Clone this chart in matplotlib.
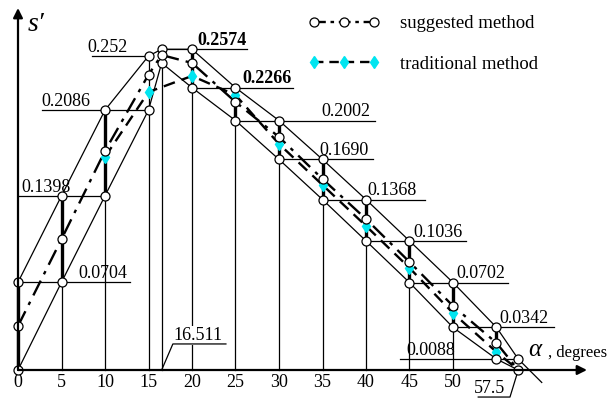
import matplotlib
matplotlib.use("Agg")
import matplotlib.pyplot as plt
from matplotlib.lines import Line2D

plt.rcParams['font.family'] = ['Liberation Serif', 'DejaVu Serif']

# datos
alpha_rise = [0, 5, 10, 15, 16.511]
upper_rise = [0.0704, 0.1398, 0.2086, 0.252, 0.2574]
lower_rise = [0.0, 0.0704, 0.1398, 0.2086, 0.2464]

alpha_fall = [20, 25, 30, 35, 40, 45, 50, 55, 57.5]
upper_fall = [0.2574, 0.2266, 0.2002, 0.1690, 0.1368, 0.1036, 0.0702, 0.0342, 0.0088]
lower_fall = [0.2266, 0.2002, 0.1690, 0.1368, 0.1036, 0.0702, 0.0342, 0.0088, 0.0]
upper_tail = (60.2, -0.010)

alpha_sug = [0, 5, 10, 15, 16.511, 20, 25, 30, 35, 40, 45, 50, 55, 57.5]
s_sug = [0.0353, 0.105, 0.1758, 0.237, 0.2528, 0.2464, 0.2151, 0.187, 0.1533,
         0.1212, 0.0867, 0.0514, 0.0217, 0.0]
alpha_trad = [10, 15, 20, 25, 30, 35, 40, 45, 50, 55, 57.5]
s_trad = [0.171, 0.2231, 0.236, 0.2207, 0.1814, 0.1485, 0.1156, 0.0819, 0.0457,
          0.0144, 0.0]

x_ticks = [0, 5, 10, 15, 20, 25, 30, 35, 40, 45, 50]

value_labels = ["0.0704", "0.1398", "0.2086", "0.252", "0.2574", "0.2266", "0.2002",
                "0.1690", "0.1368", "0.1036", "0.0702", "0.0342", "0.0088"]
bold_labels = ["0.2574", "0.2266"]
# posicion del texto (borde derecho) y extremos del subrayado, en grados
label_layout = [(12.6, 0, 12.9), (6.0, 0, 10), (8.3, 2.8, 15), (12.6, 8.5, 15),
                (26.3, 16.511, 26.3), (31.5, 20, 31.6), (40.5, 25, 41.0),
                (40.3, 30, 40.8), (45.8, 35, 46.8), (51.1, 40, 51.5),
                (56.0, 45, 56.3), (61.0, 50, 61.6), (50.3, 43.9, 57.5)]

fig = plt.figure(figsize=(6.09, 4.03), dpi=100)
ax = fig.add_axes([0, 0, 1, 1])
ax.set_xlim(-18 / 8.7, (609 - 18) / 8.7)
ax.set_ylim(-33 / 1246, 370 / 1246)
ax.axis('off')

thin = dict(color='black', lw=0.9, zorder=2)
circ = dict(marker='o', ms=6.5, mfc='white', mec='black', mew=0.9)
cyan = '#00e5f0'

# bandas superior e inferior
ax.plot(alpha_rise + [alpha_fall[0]], upper_rise + [upper_fall[0]], **thin)
ax.plot(alpha_fall + [upper_tail[0]], upper_fall + [upper_tail[1]], **thin)
ax.plot(alpha_rise + alpha_fall, lower_rise + lower_fall, **thin)

# verticales finas desde el eje
for a, lo in zip(alpha_rise[1:] + alpha_fall[:-2], lower_rise[1:] + lower_fall[:-2]):
    ax.plot([a, a], [0, lo], **thin)
ax.plot([15, 15], [0.2086, 0.252], **thin)
ax.plot([16.511, 16.511], [0.2464, 0.2574], **thin)

# verticales gruesas entre bandas
for a, lo, up in zip(alpha_rise[:3] + alpha_fall[:-1], lower_rise[:3] + lower_fall[:-1],
                     upper_rise[:3] + upper_fall[:-1]):
    ax.plot([a, a], [lo, up], color='black', lw=2.4, zorder=2)

# subrayados y etiquetas
for txt, (tx, x0, x1) in zip(value_labels, label_layout):
    v = float(txt)
    ax.plot([x0, x1], [v, v], **thin)
    ax.annotate(txt, xy=(tx, v), xytext=(0, 3.0), textcoords='offset points',
                ha='right', va='baseline', fontsize=13,
                fontweight='bold' if txt in bold_labels else 'normal')

# curvas
ax.plot(alpha_sug, s_sug, color='black', lw=1.7, dashes=(7, 3, 1.5, 3), zorder=3)
ax.plot(alpha_trad, s_trad, color='black', lw=1.7, dashes=(5, 3), zorder=3)
ax.plot(alpha_trad[:-1], s_trad[:-1], ls='none', marker='d', ms=6,
        mfc=cyan, mec=cyan, zorder=4)

# circulos
ax.plot(alpha_rise, upper_rise, ls='none', zorder=5, **circ)
ax.plot(alpha_rise, lower_rise, ls='none', zorder=5, **circ)
ax.plot(alpha_fall, upper_fall, ls='none', zorder=5, **circ)
ax.plot(alpha_fall, lower_fall, ls='none', zorder=5, **circ)
ax.plot(alpha_sug[:-1], s_sug[:-1], ls='none', zorder=5, **circ)

# ejes con flecha
ax.annotate('', xy=(65.4, 0), xytext=(0, 0),
            arrowprops=dict(arrowstyle='-|>', color='black', lw=1.6,
                            mutation_scale=14, shrinkA=0, shrinkB=0), zorder=6)
ax.annotate('', xy=(0, 0.2905), xytext=(0, 0),
            arrowprops=dict(arrowstyle='-|>', color='black', lw=1.6,
                            mutation_scale=14, shrinkA=0, shrinkB=0), zorder=6)

for t in x_ticks:
    ax.annotate(str(t), xy=(t, 0), xytext=(0, -3), textcoords='offset points',
                ha='center', va='top', fontsize=13)

# 16.511 y 57.5
ax.plot([16.511, 17.8, 23.9], [0, 0.0209, 0.0209], color='black', lw=0.9, zorder=6)
ax.annotate("16.511", xy=(23.5, 0.0209), xytext=(0, 3.0), textcoords='offset points',
            ha='right', va='baseline', fontsize=13, zorder=4,
            bbox=dict(boxstyle='square,pad=0.05', fc='white', ec='none'))
ax.plot([57.5, 56.55, 52.9], [0, -0.0217, -0.0217], **thin)
ax.annotate("57.5", xy=(56.0, -0.0217), xytext=(0, 3.0), textcoords='offset points',
            ha='right', va='baseline', fontsize=13)

ax.text(1.1, 0.277, "s′", fontsize=20, style='italic', va='center', ha='left')
ax.text(58.7, 0.016, "α", fontsize=18, style='italic', va='center', ha='left')
ax.text(60.9, 0.014, ", degrees", fontsize=12, va='center', ha='left')

handles = [
    Line2D([], [], color='black', lw=1.7, dashes=(5, 2, 1.5, 2), **circ),
    Line2D([], [], color='black', lw=1.7, dashes=(4, 2.5), marker='d', ms=6,
           mfc=cyan, mec=cyan),
]
fig.legend(handles, ['suggested method', 'traditional method'], loc='center left',
           bbox_to_anchor=(308 / 609, 1 - 44 / 403), frameon=False, fontsize=13.5,
           numpoints=3, handlelength=3.8, handletextpad=1.1, labelspacing=1.25,
           borderpad=0, borderaxespad=0)

fig.savefig('out.png', dpi=100)
